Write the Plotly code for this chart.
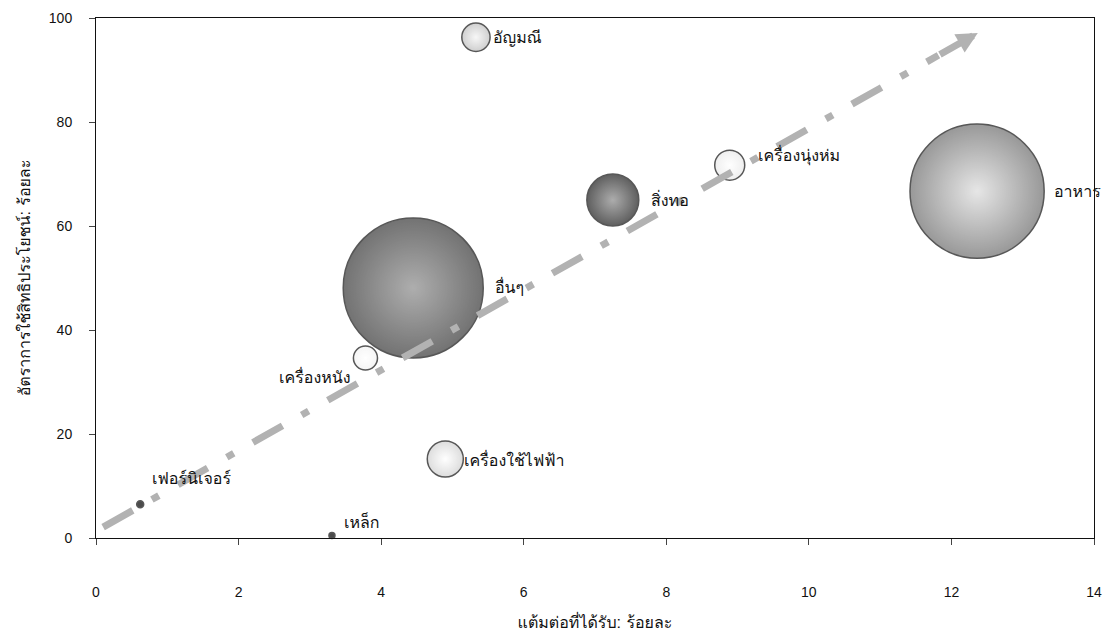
import plotly.graph_objects as go

# ---- data ----
categories = ["อัญมณี", "เครื่องนุ่งห่ม", "สิ่งทอ", "อาหาร", "อื่นๆ",
              "เครื่องหนัง", "เครื่องใช้ไฟฟ้า", "เฟอร์นิเจอร์", "เหล็ก"]
margin_pref = [5.33, 8.89, 7.25, 12.36, 4.45, 3.78, 4.9, 0.62, 3.31]     # x: แต้มต่อที่ได้รับ
utilization = [96.3, 71.7, 65.0, 66.7, 48.1, 34.6, 15.2, 6.5, 0.5]      # y: อัตราการใช้สิทธิประโยชน์
bubble_weight = [0.8, 0.9, 2.7, 18.0, 19.6, 0.58, 1.3, 0.049, 0.009]    # relative bubble area

trend_x = [0.1, 12.37]
trend_y = [2.1, 97.1]

x_ticks = [0, 2, 4, 6, 8, 10, 12, 14]
y_ticks = [0, 20, 40, 60, 80, 100]

# ---- styles ----
outer_colors = ["#bcbcbc", "#e8e8e8", "#1c1c1c", "#6e6e6e", "#383838",
                "#f2f2f2", "#cfcfcf", "#000000", "#000000"]
inner_colors = ["#f4f4f4", "#ffffff", "#8a8a8a", "#dcdcdc", "#8c8c8c",
                "#ffffff", "#ffffff", "#000000", "#000000"]
# label placement: (xanchor, xshift px, yshift px)
label_place = [("left", 15, 0), ("left", 26, 10), ("left", 36, 0), ("left", 75, 0),
               ("left", 80, 0), ("right", -13, -19), ("left", 17, -2),
               ("left", 10, 26), ("left", 10, 13)]

thai_font = "Loma, Garuda, Kinnari, Norasi, Noto Sans Thai Looped, Noto Sans Thai, DejaVu Sans, sans-serif"
num_font = "Liberation Sans, Arial, sans-serif"

max_px = 140
sizeref = 2.0 * max(bubble_weight) / (max_px ** 2)

fig = go.Figure()

fig.add_trace(go.Scatter(
    x=margin_pref, y=utilization, mode="markers",
    marker=dict(size=bubble_weight, sizemode="area", sizeref=sizeref, sizemin=3,
                color=outer_colors,
                gradient=dict(type="radial", color=inner_colors),
                line=dict(color="#111111", width=1.5)),
    showlegend=False, hoverinfo="skip", cliponaxis=False,
))

for name, xv, yv, (anc, dx, dy) in zip(categories, margin_pref, utilization, label_place):
    fig.add_annotation(x=xv, y=yv, xref="x", yref="y", text=name, showarrow=False,
                       xanchor=anc, yanchor="middle", xshift=dx, yshift=dy,
                       font=dict(family=thai_font, size=16, color="#111111"))

# dashed trend line (stops short of the end where the arrow head sits)
frac = 0.955
tx_end = trend_x[0] + frac * (trend_x[1] - trend_x[0])
ty_end = trend_y[0] + frac * (trend_y[1] - trend_y[0])
fig.add_trace(go.Scatter(
    x=[trend_x[0], tx_end], y=[trend_y[0], ty_end], mode="lines",
    line=dict(color="#b2b2b2", width=7, dash="34px,22px,8px,22px"),
    showlegend=False, hoverinfo="skip",
))

fig.add_annotation(
    x=trend_x[1], y=trend_y[1], ax=tx_end, ay=ty_end,
    xref="x", yref="y", axref="x", ayref="y",
    showarrow=True, arrowhead=2, arrowsize=0.6, arrowwidth=7,
    arrowcolor="#b2b2b2", text="",
)

fig.update_layout(
    width=1105, height=639,
    margin=dict(l=96, r=11, t=18, b=101),
    paper_bgcolor="white", plot_bgcolor="white",
    font=dict(family=num_font, size=14, color="#111111"),
    xaxis=dict(
        range=[0, 14], tickvals=x_ticks, ticks="outside", ticklen=6,
        showgrid=False, zeroline=False, showline=True, linecolor="#111111",
        linewidth=1, mirror=True, ticklabelstandoff=35, automargin=False,
        tickfont=dict(family=num_font, size=14),
        title=dict(text="แต้มต่อที่ได้รับ: ร้อยละ",
                   font=dict(family=thai_font, size=16), standoff=18),
    ),
    yaxis=dict(
        range=[0, 100], tickvals=y_ticks, ticks="outside", ticklen=6,
        showgrid=False, zeroline=False, showline=True, linecolor="#111111",
        linewidth=1, mirror=True, ticklabelstandoff=14, automargin=False,
        tickfont=dict(family=num_font, size=14),
        title=dict(text="อัตราการใช้สิทธิประโยชน์: ร้อยละ",
                   font=dict(family=thai_font, size=16), standoff=14),
    ),
)

fig.write_html("out.html")
